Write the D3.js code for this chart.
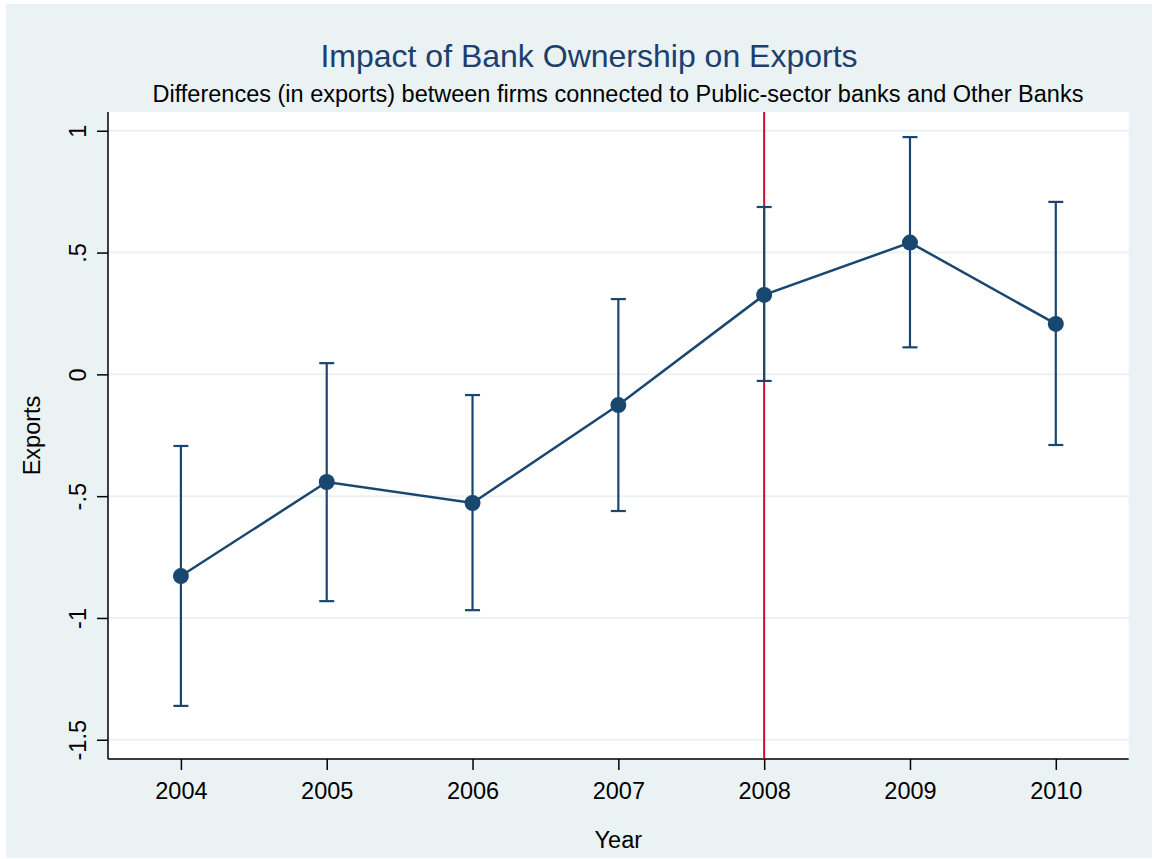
<!DOCTYPE html>
<html>
<head>
<meta charset="utf-8">
<script src="https://cdn.jsdelivr.net/npm/d3@7"></script>
<style>
  html, body { margin: 0; padding: 0; background: #ffffff; }
  svg { display: block; }
  text { font-family: "Liberation Sans", Arial, sans-serif; }
</style>
</head>
<body>
<svg id="chart" width="1153" height="859"></svg>
<script>
// ---- Data ----
const years = [2004, 2005, 2006, 2007, 2008, 2009, 2010];
const estimates = [-0.828, -0.442, -0.528, -0.126, 0.326, 0.541, 0.207];
const upperCI = [-0.294, 0.046, -0.085, 0.309, 0.687, 0.974, 0.708];
const lowerCI = [-1.361, -0.931, -0.968, -0.561, -0.027, 0.111, -0.290];
const yTicks = [-1.5, -1, -0.5, 0, 0.5, 1];
const yTickLabels = ["-1.5", "-1", "-.5", "0", ".5", "1"];
const refYear = 2008;
const titleText = "Impact of Bank Ownership on Exports";
const subtitleText = "Differences (in exports) between firms connected to Public-sector banks and Other Banks";
const xTitle = "Year";
const yTitle = "Exports";

// ---- Layout ----
const svg = d3.select("#chart");
const navy = "#1A476F";
const fs = 23.5;
const plot = { left: 108, right: 1128.7, top: 112, bottom: 759 };

svg.append("rect").attr("x", 6).attr("y", 4).attr("width", 1146).attr("height", 854)
  .attr("fill", "#EAF2F3");
svg.append("rect").attr("x", plot.left).attr("y", plot.top)
  .attr("width", plot.right - plot.left).attr("height", plot.bottom - plot.top)
  .attr("fill", "#ffffff");

const x = d3.scaleLinear().domain([2003.5, 2010.5]).range([plot.left, plot.right]);
const y = d3.scaleLinear().domain([-1.579, 1.077]).range([plot.bottom, plot.top]);

// gridlines
svg.append("g").selectAll("line").data(yTicks).join("line")
  .attr("x1", plot.left).attr("x2", plot.right)
  .attr("y1", d => y(d)).attr("y2", d => y(d))
  .attr("stroke", "#EAF2F3").attr("stroke-width", 2);

// y axis
const yAxis = d3.axisLeft(y).tickValues(yTicks)
  .tickFormat((d, i) => yTickLabels[i]).tickSize(11).tickSizeOuter(0).tickPadding(11);
const gy = svg.append("g").attr("transform", `translate(${plot.left},0)`).call(yAxis);
gy.select(".domain").attr("d", `M0,${plot.top}V${plot.bottom}`).attr("stroke", "#000").attr("stroke-width", 1.5);
gy.selectAll(".tick line").attr("stroke", "#000").attr("stroke-width", 1.5);
gy.selectAll(".tick text")
  .attr("font-size", fs).attr("fill", "#000")
  .attr("font-family", "Liberation Sans, Arial, sans-serif")
  .attr("text-anchor", "middle")
  .attr("dy", 0)
  .attr("transform", "translate(-22,0) rotate(-90)")
  .attr("x", 0).attr("y", 0);

// x axis
const xAxis = d3.axisBottom(x).tickValues(years).tickFormat(d3.format("d"))
  .tickSize(11).tickSizeOuter(0).tickPadding(12);
const gx = svg.append("g").attr("transform", `translate(0,${plot.bottom})`).call(xAxis);
gx.select(".domain").attr("d", `M${plot.left},0H${plot.right}`).attr("stroke", "#000").attr("stroke-width", 1.5);
gx.selectAll(".tick line").attr("stroke", "#000").attr("stroke-width", 1.5);
gx.selectAll(".tick text").attr("font-size", fs).attr("fill", "#000")
  .attr("font-family", "Liberation Sans, Arial, sans-serif")
  .attr("dy", 0).attr("y", 40);

// reference line
svg.append("line")
  .attr("x1", x(refYear)).attr("x2", x(refYear))
  .attr("y1", plot.top).attr("y2", plot.bottom)
  .attr("stroke", "#C8102E").attr("stroke-width", 2);

// error bars
const idx = d3.range(years.length);
const eb = svg.append("g").attr("stroke", navy).attr("stroke-width", 2.2).attr("fill", "none");
eb.selectAll("line.v").data(idx).join("line").attr("class", "v")
  .attr("x1", i => x(years[i])).attr("x2", i => x(years[i]))
  .attr("y1", i => y(upperCI[i])).attr("y2", i => y(lowerCI[i]));
eb.selectAll("line.u").data(idx).join("line").attr("class", "u")
  .attr("x1", i => x(years[i]) - 7.5).attr("x2", i => x(years[i]) + 7.5)
  .attr("y1", i => y(upperCI[i])).attr("y2", i => y(upperCI[i]));
eb.selectAll("line.l").data(idx).join("line").attr("class", "l")
  .attr("x1", i => x(years[i]) - 7.5).attr("x2", i => x(years[i]) + 7.5)
  .attr("y1", i => y(lowerCI[i])).attr("y2", i => y(lowerCI[i]));

// connecting line
const line = d3.line().x(i => x(years[i])).y(i => y(estimates[i]));
svg.append("path").datum(idx).attr("d", line)
  .attr("fill", "none").attr("stroke", navy).attr("stroke-width", 2.5);

// points
svg.append("g").selectAll("circle").data(idx).join("circle")
  .attr("cx", i => x(years[i])).attr("cy", i => y(estimates[i]))
  .attr("r", 8).attr("fill", navy);

// titles
svg.append("text").attr("x", 589).attr("y", 67).attr("text-anchor", "middle")
  .attr("font-size", 32).attr("fill", "#1C3F6E").text(titleText);
svg.append("text").attr("x", 618).attr("y", 102).attr("text-anchor", "middle")
  .attr("font-size", fs).attr("fill", "#000").text(subtitleText);
svg.append("text").attr("x", (plot.left + plot.right) / 2).attr("y", 848).attr("text-anchor", "middle")
  .attr("font-size", fs).attr("fill", "#000").text(xTitle);
svg.append("text").attr("transform", `translate(40,${(plot.top + plot.bottom) / 2}) rotate(-90)`)
  .attr("text-anchor", "middle").attr("font-size", fs).attr("fill", "#000").text(yTitle);
</script>
</body>
</html>
